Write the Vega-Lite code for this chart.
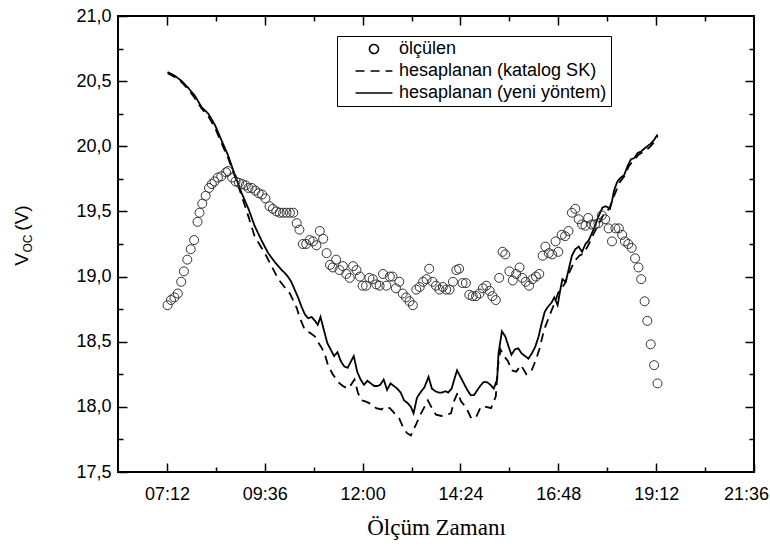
{
  "$schema": "https://vega.github.io/schema/vega-lite/v6.json",
  "width": 636,
  "height": 456,
  "autosize": "none",
  "padding": {"left": 118, "top": 16, "right": 16, "bottom": 78},
  "background": "white",
  "config": {
    "view": {"stroke": "#000", "strokeWidth": 2},
    "font": "Liberation Sans",
    "axis": {"domain": false, "grid": false, "tickColor": "#000", "tickWidth": 1.5, "labelFont": "Liberation Sans", "labelFontSize": 18, "labelColor": "#000", "titleColor": "#000", "titleFontWeight": "normal", "labelOverlap": false},
    "legend": {"symbolFillColor": "transparent"}
  },
  "datasets": {
    "olcum": [
      {"s":"ölçülen","t":"07:13","v":18.78},{"s":"ölçülen","t":"07:18","v":18.82},{"s":"ölçülen","t":"07:23","v":18.84},{"s":"ölçülen","t":"07:28","v":18.87},{"s":"ölçülen","t":"07:33","v":18.96},{"s":"ölçülen","t":"07:37","v":19.04},{"s":"ölçülen","t":"07:42","v":19.13},{"s":"ölçülen","t":"07:47","v":19.21},{"s":"ölçülen","t":"07:52","v":19.28},{"s":"ölçülen","t":"07:57","v":19.42},{"s":"ölçülen","t":"08:00","v":19.49},{"s":"ölçülen","t":"08:04","v":19.56},{"s":"ölçülen","t":"08:09","v":19.62},{"s":"ölçülen","t":"08:14","v":19.68},{"s":"ölçülen","t":"08:18","v":19.71},{"s":"ölçülen","t":"08:22","v":19.73},{"s":"ölçülen","t":"08:27","v":19.76},{"s":"ölçülen","t":"08:32","v":19.77},{"s":"ölçülen","t":"08:39","v":19.80},{"s":"ölçülen","t":"08:42","v":19.81},{"s":"ölçülen","t":"08:48","v":19.76},{"s":"ölçülen","t":"08:53","v":19.73},{"s":"ölçülen","t":"08:58","v":19.72},{"s":"ölçülen","t":"09:03","v":19.71},{"s":"ölçülen","t":"09:08","v":19.70},{"s":"ölçülen","t":"09:12","v":19.68},{"s":"ölçülen","t":"09:17","v":19.68},{"s":"ölçülen","t":"09:22","v":19.66},{"s":"ölçülen","t":"09:27","v":19.64},{"s":"ölçülen","t":"09:32","v":19.63},{"s":"ölçülen","t":"09:37","v":19.60},{"s":"ölçülen","t":"09:43","v":19.54},{"s":"ölçülen","t":"09:48","v":19.52},{"s":"ölçülen","t":"09:53","v":19.50},{"s":"ölçülen","t":"09:58","v":19.49},{"s":"ölçülen","t":"10:03","v":19.49},{"s":"ölçülen","t":"10:08","v":19.49},{"s":"ölçülen","t":"10:13","v":19.49},{"s":"ölçülen","t":"10:18","v":19.49},{"s":"ölçülen","t":"10:23","v":19.41},{"s":"ölçülen","t":"10:27","v":19.36},{"s":"ölçülen","t":"10:32","v":19.25},{"s":"ölçülen","t":"10:37","v":19.25},{"s":"ölçülen","t":"10:42","v":19.28},{"s":"ölçülen","t":"10:47","v":19.27},{"s":"ölçülen","t":"10:52","v":19.24},{"s":"ölçülen","t":"10:57","v":19.35},{"s":"ölçülen","t":"11:02","v":19.29},{"s":"ölçülen","t":"11:07","v":19.18},{"s":"ölçülen","t":"11:12","v":19.09},{"s":"ölçülen","t":"11:16","v":19.07},{"s":"ölçülen","t":"11:21","v":19.13},{"s":"ölçülen","t":"11:26","v":19.05},{"s":"ölçülen","t":"11:31","v":19.08},{"s":"ölçülen","t":"11:36","v":19.02},{"s":"ölçülen","t":"11:41","v":18.99},{"s":"ölçülen","t":"11:46","v":19.08},{"s":"ölçülen","t":"11:51","v":19.05},{"s":"ölçülen","t":"11:56","v":19.00},{"s":"ölçülen","t":"12:00","v":18.93},{"s":"ölçülen","t":"12:05","v":18.93},{"s":"ölçülen","t":"12:10","v":18.99},{"s":"ölçülen","t":"12:15","v":18.98},{"s":"ölçülen","t":"12:20","v":18.94},{"s":"ölçülen","t":"12:25","v":18.93},{"s":"ölçülen","t":"12:30","v":19.02},{"s":"ölçülen","t":"12:35","v":18.93},{"s":"ölçülen","t":"12:40","v":19.00},{"s":"ölçülen","t":"12:44","v":19.00},{"s":"ölçülen","t":"12:49","v":18.91},{"s":"ölçülen","t":"12:54","v":18.96},{"s":"ölçülen","t":"12:59","v":18.87},{"s":"ölçülen","t":"13:04","v":18.84},{"s":"ölçülen","t":"13:09","v":18.81},{"s":"ölçülen","t":"13:14","v":18.78},{"s":"ölçülen","t":"13:19","v":18.90},{"s":"ölçülen","t":"13:24","v":18.92},{"s":"ölçülen","t":"13:29","v":18.96},{"s":"ölçülen","t":"13:34","v":18.98},{"s":"ölçülen","t":"13:38","v":19.06},{"s":"ölçülen","t":"13:43","v":18.96},{"s":"ölçülen","t":"13:48","v":18.93},{"s":"ölçülen","t":"13:53","v":18.90},{"s":"ölçülen","t":"13:58","v":18.92},{"s":"ölçülen","t":"14:03","v":18.90},{"s":"ölçülen","t":"14:08","v":18.90},{"s":"ölçülen","t":"14:13","v":18.96},{"s":"ölçülen","t":"14:18","v":19.05},{"s":"ölçülen","t":"14:22","v":19.06},{"s":"ölçülen","t":"14:27","v":18.95},{"s":"ölçülen","t":"14:32","v":18.95},{"s":"ölçülen","t":"14:37","v":18.86},{"s":"ölçülen","t":"14:42","v":18.85},{"s":"ölçülen","t":"14:47","v":18.85},{"s":"ölçülen","t":"14:52","v":18.87},{"s":"ölçülen","t":"14:57","v":18.91},{"s":"ölçülen","t":"15:02","v":18.93},{"s":"ölçülen","t":"15:07","v":18.89},{"s":"ölçülen","t":"15:11","v":18.85},{"s":"ölçülen","t":"15:16","v":18.82},{"s":"ölçülen","t":"15:21","v":18.99},{"s":"ölçülen","t":"15:26","v":19.19},{"s":"ölçülen","t":"15:30","v":19.17},{"s":"ölçülen","t":"15:36","v":19.04},{"s":"ölçülen","t":"15:41","v":18.97},{"s":"ölçülen","t":"15:46","v":19.02},{"s":"ölçülen","t":"15:51","v":19.07},{"s":"ölçülen","t":"15:55","v":18.99},{"s":"ölçülen","t":"16:00","v":18.96},{"s":"ölçülen","t":"16:05","v":18.93},{"s":"ölçülen","t":"16:10","v":18.98},{"s":"ölçülen","t":"16:15","v":19.00},{"s":"ölçülen","t":"16:20","v":19.02},{"s":"ölçülen","t":"16:25","v":19.16},{"s":"ölçülen","t":"16:29","v":19.23},{"s":"ölçülen","t":"16:34","v":19.18},{"s":"ölçülen","t":"16:39","v":19.17},{"s":"ölçülen","t":"16:44","v":19.27},{"s":"ölçülen","t":"16:48","v":19.19},{"s":"ölçülen","t":"16:53","v":19.32},{"s":"ölçülen","t":"16:58","v":19.31},{"s":"ölçülen","t":"17:03","v":19.35},{"s":"ölçülen","t":"17:08","v":19.49},{"s":"ölçülen","t":"17:13","v":19.52},{"s":"ölçülen","t":"17:18","v":19.44},{"s":"ölçülen","t":"17:23","v":19.40},{"s":"ölçülen","t":"17:28","v":19.39},{"s":"ölçülen","t":"17:32","v":19.45},{"s":"ölçülen","t":"17:37","v":19.40},{"s":"ölçülen","t":"17:42","v":19.40},{"s":"ölçülen","t":"17:47","v":19.41},{"s":"ölçülen","t":"17:52","v":19.47},{"s":"ölçülen","t":"17:57","v":19.44},{"s":"ölçülen","t":"18:02","v":19.37},{"s":"ölçülen","t":"18:07","v":19.27},{"s":"ölçülen","t":"18:12","v":19.37},{"s":"ölçülen","t":"18:17","v":19.37},{"s":"ölçülen","t":"18:22","v":19.32},{"s":"ölçülen","t":"18:26","v":19.27},{"s":"ölçülen","t":"18:31","v":19.25},{"s":"ölçülen","t":"18:36","v":19.22},{"s":"ölçülen","t":"18:41","v":19.14},{"s":"ölçülen","t":"18:46","v":19.07},{"s":"ölçülen","t":"18:50","v":18.98},{"s":"ölçülen","t":"18:55","v":18.81},{"s":"ölçülen","t":"18:59","v":18.66},{"s":"ölçülen","t":"19:04","v":18.48},{"s":"ölçülen","t":"19:09","v":18.32},{"s":"ölçülen","t":"19:14","v":18.18}
    ],
    "hesap": [
      {"s":"hesaplanan (yeni yöntem)","t":"07:13","v":20.57},{"s":"hesaplanan (yeni yöntem)","t":"07:24","v":20.54},{"s":"hesaplanan (yeni yöntem)","t":"07:34","v":20.50},{"s":"hesaplanan (yeni yöntem)","t":"07:43","v":20.45},{"s":"hesaplanan (yeni yöntem)","t":"07:53","v":20.39},{"s":"hesaplanan (yeni yöntem)","t":"08:03","v":20.30},{"s":"hesaplanan (yeni yöntem)","t":"08:13","v":20.25},{"s":"hesaplanan (yeni yöntem)","t":"08:23","v":20.16},{"s":"hesaplanan (yeni yöntem)","t":"08:32","v":20.05},{"s":"hesaplanan (yeni yöntem)","t":"08:42","v":19.93},{"s":"hesaplanan (yeni yöntem)","t":"08:52","v":19.78},{"s":"hesaplanan (yeni yöntem)","t":"09:02","v":19.64},{"s":"hesaplanan (yeni yöntem)","t":"09:12","v":19.52},{"s":"hesaplanan (yeni yöntem)","t":"09:21","v":19.39},{"s":"hesaplanan (yeni yöntem)","t":"09:31","v":19.28},{"s":"hesaplanan (yeni yöntem)","t":"09:41","v":19.18},{"s":"hesaplanan (yeni yöntem)","t":"09:51","v":19.11},{"s":"hesaplanan (yeni yöntem)","t":"10:01","v":19.05},{"s":"hesaplanan (yeni yöntem)","t":"10:05","v":19.03},{"s":"hesaplanan (yeni yöntem)","t":"10:10","v":19.00},{"s":"hesaplanan (yeni yöntem)","t":"10:15","v":18.96},{"s":"hesaplanan (yeni yöntem)","t":"10:20","v":18.90},{"s":"hesaplanan (yeni yöntem)","t":"10:25","v":18.84},{"s":"hesaplanan (yeni yöntem)","t":"10:30","v":18.77},{"s":"hesaplanan (yeni yöntem)","t":"10:35","v":18.71},{"s":"hesaplanan (yeni yöntem)","t":"10:40","v":18.68},{"s":"hesaplanan (yeni yöntem)","t":"10:45","v":18.69},{"s":"hesaplanan (yeni yöntem)","t":"10:50","v":18.66},{"s":"hesaplanan (yeni yöntem)","t":"10:54","v":18.63},{"s":"hesaplanan (yeni yöntem)","t":"10:58","v":18.69},{"s":"hesaplanan (yeni yöntem)","t":"11:03","v":18.59},{"s":"hesaplanan (yeni yöntem)","t":"11:08","v":18.49},{"s":"hesaplanan (yeni yöntem)","t":"11:13","v":18.44},{"s":"hesaplanan (yeni yöntem)","t":"11:18","v":18.39},{"s":"hesaplanan (yeni yöntem)","t":"11:23","v":18.42},{"s":"hesaplanan (yeni yöntem)","t":"11:28","v":18.35},{"s":"hesaplanan (yeni yöntem)","t":"11:33","v":18.31},{"s":"hesaplanan (yeni yöntem)","t":"11:38","v":18.30},{"s":"hesaplanan (yeni yöntem)","t":"11:42","v":18.34},{"s":"hesaplanan (yeni yöntem)","t":"11:47","v":18.39},{"s":"hesaplanan (yeni yöntem)","t":"11:52","v":18.27},{"s":"hesaplanan (yeni yöntem)","t":"11:57","v":18.21},{"s":"hesaplanan (yeni yöntem)","t":"12:02","v":18.17},{"s":"hesaplanan (yeni yöntem)","t":"12:07","v":18.20},{"s":"hesaplanan (yeni yöntem)","t":"12:12","v":18.18},{"s":"hesaplanan (yeni yöntem)","t":"12:17","v":18.16},{"s":"hesaplanan (yeni yöntem)","t":"12:22","v":18.16},{"s":"hesaplanan (yeni yöntem)","t":"12:26","v":18.17},{"s":"hesaplanan (yeni yöntem)","t":"12:31","v":18.21},{"s":"hesaplanan (yeni yöntem)","t":"12:36","v":18.13},{"s":"hesaplanan (yeni yöntem)","t":"12:41","v":18.18},{"s":"hesaplanan (yeni yöntem)","t":"12:46","v":18.16},{"s":"hesaplanan (yeni yöntem)","t":"12:51","v":18.14},{"s":"hesaplanan (yeni yöntem)","t":"12:56","v":18.11},{"s":"hesaplanan (yeni yöntem)","t":"13:01","v":18.05},{"s":"hesaplanan (yeni yöntem)","t":"13:06","v":18.03},{"s":"hesaplanan (yeni yöntem)","t":"13:11","v":18.00},{"s":"hesaplanan (yeni yöntem)","t":"13:15","v":17.95},{"s":"hesaplanan (yeni yöntem)","t":"13:20","v":18.07},{"s":"hesaplanan (yeni yöntem)","t":"13:25","v":18.11},{"s":"hesaplanan (yeni yöntem)","t":"13:31","v":18.15},{"s":"hesaplanan (yeni yöntem)","t":"13:37","v":18.23},{"s":"hesaplanan (yeni yöntem)","t":"13:42","v":18.14},{"s":"hesaplanan (yeni yöntem)","t":"13:47","v":18.12},{"s":"hesaplanan (yeni yöntem)","t":"13:52","v":18.11},{"s":"hesaplanan (yeni yöntem)","t":"13:57","v":18.11},{"s":"hesaplanan (yeni yöntem)","t":"14:02","v":18.12},{"s":"hesaplanan (yeni yöntem)","t":"14:06","v":18.11},{"s":"hesaplanan (yeni yöntem)","t":"14:11","v":18.14},{"s":"hesaplanan (yeni yöntem)","t":"14:16","v":18.23},{"s":"hesaplanan (yeni yöntem)","t":"14:19","v":18.28},{"s":"hesaplanan (yeni yöntem)","t":"14:24","v":18.23},{"s":"hesaplanan (yeni yöntem)","t":"14:29","v":18.18},{"s":"hesaplanan (yeni yöntem)","t":"14:34","v":18.13},{"s":"hesaplanan (yeni yöntem)","t":"14:39","v":18.09},{"s":"hesaplanan (yeni yöntem)","t":"14:44","v":18.09},{"s":"hesaplanan (yeni yöntem)","t":"14:49","v":18.13},{"s":"hesaplanan (yeni yöntem)","t":"14:53","v":18.16},{"s":"hesaplanan (yeni yöntem)","t":"14:58","v":18.19},{"s":"hesaplanan (yeni yöntem)","t":"15:03","v":18.19},{"s":"hesaplanan (yeni yöntem)","t":"15:08","v":18.17},{"s":"hesaplanan (yeni yöntem)","t":"15:13","v":18.14},{"s":"hesaplanan (yeni yöntem)","t":"15:18","v":18.21},{"s":"hesaplanan (yeni yöntem)","t":"15:20","v":18.41},{"s":"hesaplanan (yeni yöntem)","t":"15:25","v":18.58},{"s":"hesaplanan (yeni yöntem)","t":"15:30","v":18.54},{"s":"hesaplanan (yeni yöntem)","t":"15:35","v":18.46},{"s":"hesaplanan (yeni yöntem)","t":"15:39","v":18.40},{"s":"hesaplanan (yeni yöntem)","t":"15:44","v":18.44},{"s":"hesaplanan (yeni yöntem)","t":"15:49","v":18.45},{"s":"hesaplanan (yeni yöntem)","t":"15:54","v":18.41},{"s":"hesaplanan (yeni yöntem)","t":"15:59","v":18.39},{"s":"hesaplanan (yeni yöntem)","t":"16:04","v":18.37},{"s":"hesaplanan (yeni yöntem)","t":"16:09","v":18.41},{"s":"hesaplanan (yeni yöntem)","t":"16:14","v":18.46},{"s":"hesaplanan (yeni yöntem)","t":"16:19","v":18.54},{"s":"hesaplanan (yeni yöntem)","t":"16:23","v":18.63},{"s":"hesaplanan (yeni yöntem)","t":"16:28","v":18.73},{"s":"hesaplanan (yeni yöntem)","t":"16:33","v":18.77},{"s":"hesaplanan (yeni yöntem)","t":"16:38","v":18.80},{"s":"hesaplanan (yeni yöntem)","t":"16:42","v":18.84},{"s":"hesaplanan (yeni yöntem)","t":"16:47","v":18.78},{"s":"hesaplanan (yeni yöntem)","t":"16:51","v":18.90},{"s":"hesaplanan (yeni yöntem)","t":"16:54","v":18.98},{"s":"hesaplanan (yeni yöntem)","t":"16:59","v":18.96},{"s":"hesaplanan (yeni yöntem)","t":"17:03","v":19.05},{"s":"hesaplanan (yeni yöntem)","t":"17:08","v":19.16},{"s":"hesaplanan (yeni yöntem)","t":"17:13","v":19.21},{"s":"hesaplanan (yeni yöntem)","t":"17:18","v":19.23},{"s":"hesaplanan (yeni yöntem)","t":"17:23","v":19.19},{"s":"hesaplanan (yeni yöntem)","t":"17:28","v":19.25},{"s":"hesaplanan (yeni yöntem)","t":"17:33","v":19.28},{"s":"hesaplanan (yeni yöntem)","t":"17:38","v":19.34},{"s":"hesaplanan (yeni yöntem)","t":"17:42","v":19.39},{"s":"hesaplanan (yeni yöntem)","t":"17:47","v":19.46},{"s":"hesaplanan (yeni yöntem)","t":"17:53","v":19.53},{"s":"hesaplanan (yeni yöntem)","t":"17:58","v":19.54},{"s":"hesaplanan (yeni yöntem)","t":"18:04","v":19.52},{"s":"hesaplanan (yeni yöntem)","t":"18:07","v":19.58},{"s":"hesaplanan (yeni yöntem)","t":"18:10","v":19.66},{"s":"hesaplanan (yeni yöntem)","t":"18:15","v":19.73},{"s":"hesaplanan (yeni yöntem)","t":"18:20","v":19.76},{"s":"hesaplanan (yeni yöntem)","t":"18:25","v":19.78},{"s":"hesaplanan (yeni yöntem)","t":"18:30","v":19.85},{"s":"hesaplanan (yeni yöntem)","t":"18:35","v":19.90},{"s":"hesaplanan (yeni yöntem)","t":"18:40","v":19.91},{"s":"hesaplanan (yeni yöntem)","t":"18:45","v":19.95},{"s":"hesaplanan (yeni yöntem)","t":"18:50","v":19.96},{"s":"hesaplanan (yeni yöntem)","t":"18:54","v":19.98},{"s":"hesaplanan (yeni yöntem)","t":"18:59","v":20.00},{"s":"hesaplanan (yeni yöntem)","t":"19:04","v":20.02},{"s":"hesaplanan (yeni yöntem)","t":"19:09","v":20.05},{"s":"hesaplanan (yeni yöntem)","t":"19:14","v":20.09},
      {"s":"hesaplanan (katalog SK)","t":"07:13","v":20.56},{"s":"hesaplanan (katalog SK)","t":"07:24","v":20.53},{"s":"hesaplanan (katalog SK)","t":"07:34","v":20.49},{"s":"hesaplanan (katalog SK)","t":"07:43","v":20.44},{"s":"hesaplanan (katalog SK)","t":"07:53","v":20.37},{"s":"hesaplanan (katalog SK)","t":"08:03","v":20.29},{"s":"hesaplanan (katalog SK)","t":"08:13","v":20.23},{"s":"hesaplanan (katalog SK)","t":"08:23","v":20.14},{"s":"hesaplanan (katalog SK)","t":"08:32","v":20.03},{"s":"hesaplanan (katalog SK)","t":"08:42","v":19.91},{"s":"hesaplanan (katalog SK)","t":"08:52","v":19.77},{"s":"hesaplanan (katalog SK)","t":"09:02","v":19.62},{"s":"hesaplanan (katalog SK)","t":"09:12","v":19.46},{"s":"hesaplanan (katalog SK)","t":"09:21","v":19.31},{"s":"hesaplanan (katalog SK)","t":"09:36","v":19.18},{"s":"hesaplanan (katalog SK)","t":"09:46","v":19.08},{"s":"hesaplanan (katalog SK)","t":"09:56","v":18.98},{"s":"hesaplanan (katalog SK)","t":"10:05","v":18.92},{"s":"hesaplanan (katalog SK)","t":"10:13","v":18.87},{"s":"hesaplanan (katalog SK)","t":"10:23","v":18.76},{"s":"hesaplanan (katalog SK)","t":"10:27","v":18.69},{"s":"hesaplanan (katalog SK)","t":"10:35","v":18.59},{"s":"hesaplanan (katalog SK)","t":"10:42","v":18.57},{"s":"hesaplanan (katalog SK)","t":"10:50","v":18.54},{"s":"hesaplanan (katalog SK)","t":"10:54","v":18.50},{"s":"hesaplanan (katalog SK)","t":"10:59","v":18.46},{"s":"hesaplanan (katalog SK)","t":"11:04","v":18.41},{"s":"hesaplanan (katalog SK)","t":"11:09","v":18.32},{"s":"hesaplanan (katalog SK)","t":"11:16","v":18.25},{"s":"hesaplanan (katalog SK)","t":"11:24","v":18.19},{"s":"hesaplanan (katalog SK)","t":"11:31","v":18.16},{"s":"hesaplanan (katalog SK)","t":"11:38","v":18.14},{"s":"hesaplanan (katalog SK)","t":"11:43","v":18.17},{"s":"hesaplanan (katalog SK)","t":"11:48","v":18.21},{"s":"hesaplanan (katalog SK)","t":"11:53","v":18.11},{"s":"hesaplanan (katalog SK)","t":"11:58","v":18.05},{"s":"hesaplanan (katalog SK)","t":"12:05","v":18.04},{"s":"hesaplanan (katalog SK)","t":"12:13","v":18.02},{"s":"hesaplanan (katalog SK)","t":"12:20","v":17.99},{"s":"hesaplanan (katalog SK)","t":"12:28","v":17.98},{"s":"hesaplanan (katalog SK)","t":"12:32","v":18.00},{"s":"hesaplanan (katalog SK)","t":"12:40","v":17.99},{"s":"hesaplanan (katalog SK)","t":"12:47","v":17.95},{"s":"hesaplanan (katalog SK)","t":"12:54","v":17.91},{"s":"hesaplanan (katalog SK)","t":"12:59","v":17.85},{"s":"hesaplanan (katalog SK)","t":"13:05","v":17.80},{"s":"hesaplanan (katalog SK)","t":"13:11","v":17.78},{"s":"hesaplanan (katalog SK)","t":"13:19","v":17.87},{"s":"hesaplanan (katalog SK)","t":"13:24","v":17.93},{"s":"hesaplanan (katalog SK)","t":"13:36","v":18.05},{"s":"hesaplanan (katalog SK)","t":"13:43","v":17.98},{"s":"hesaplanan (katalog SK)","t":"13:48","v":17.94},{"s":"hesaplanan (katalog SK)","t":"13:56","v":17.93},{"s":"hesaplanan (katalog SK)","t":"14:03","v":17.94},{"s":"hesaplanan (katalog SK)","t":"14:10","v":17.95},{"s":"hesaplanan (katalog SK)","t":"14:15","v":18.05},{"s":"hesaplanan (katalog SK)","t":"14:20","v":18.11},{"s":"hesaplanan (katalog SK)","t":"14:25","v":18.04},{"s":"hesaplanan (katalog SK)","t":"14:32","v":18.00},{"s":"hesaplanan (katalog SK)","t":"14:40","v":17.91},{"s":"hesaplanan (katalog SK)","t":"14:47","v":17.92},{"s":"hesaplanan (katalog SK)","t":"14:54","v":18.00},{"s":"hesaplanan (katalog SK)","t":"15:02","v":18.00},{"s":"hesaplanan (katalog SK)","t":"15:09","v":17.99},{"s":"hesaplanan (katalog SK)","t":"15:16","v":18.08},{"s":"hesaplanan (katalog SK)","t":"15:19","v":18.31},{"s":"hesaplanan (katalog SK)","t":"15:23","v":18.44},{"s":"hesaplanan (katalog SK)","t":"15:28","v":18.39},{"s":"hesaplanan (katalog SK)","t":"15:34","v":18.35},{"s":"hesaplanan (katalog SK)","t":"15:39","v":18.28},{"s":"hesaplanan (katalog SK)","t":"15:46","v":18.27},{"s":"hesaplanan (katalog SK)","t":"15:53","v":18.32},{"s":"hesaplanan (katalog SK)","t":"16:01","v":18.25},{"s":"hesaplanan (katalog SK)","t":"16:08","v":18.27},{"s":"hesaplanan (katalog SK)","t":"16:15","v":18.36},{"s":"hesaplanan (katalog SK)","t":"16:20","v":18.44},{"s":"hesaplanan (katalog SK)","t":"16:27","v":18.59},{"s":"hesaplanan (katalog SK)","t":"16:35","v":18.70},{"s":"hesaplanan (katalog SK)","t":"16:42","v":18.79},{"s":"hesaplanan (katalog SK)","t":"16:49","v":18.89},{"s":"hesaplanan (katalog SK)","t":"16:57","v":18.94},{"s":"hesaplanan (katalog SK)","t":"17:04","v":19.03},{"s":"hesaplanan (katalog SK)","t":"17:12","v":19.12},{"s":"hesaplanan (katalog SK)","t":"17:19","v":19.16},{"s":"hesaplanan (katalog SK)","t":"17:26","v":19.18},{"s":"hesaplanan (katalog SK)","t":"17:34","v":19.26},{"s":"hesaplanan (katalog SK)","t":"17:41","v":19.34},{"s":"hesaplanan (katalog SK)","t":"17:48","v":19.41},{"s":"hesaplanan (katalog SK)","t":"17:56","v":19.49},{"s":"hesaplanan (katalog SK)","t":"18:03","v":19.52},{"s":"hesaplanan (katalog SK)","t":"18:10","v":19.62},{"s":"hesaplanan (katalog SK)","t":"18:18","v":19.72},{"s":"hesaplanan (katalog SK)","t":"18:25","v":19.77},{"s":"hesaplanan (katalog SK)","t":"18:32","v":19.85},{"s":"hesaplanan (katalog SK)","t":"18:40","v":19.90},{"s":"hesaplanan (katalog SK)","t":"18:47","v":19.94},{"s":"hesaplanan (katalog SK)","t":"18:54","v":19.96},{"s":"hesaplanan (katalog SK)","t":"19:02","v":19.99},{"s":"hesaplanan (katalog SK)","t":"19:09","v":20.03},{"s":"hesaplanan (katalog SK)","t":"19:14","v":20.08}
    ]
  },
  "layer": [
    {
      "data": {"name": "hesap", "format": {"parse": {"t": "date:'%H:%M'"}}},
      "mark": {"type": "line", "color": "#000", "strokeWidth": 1.8},
      "encoding": {
        "x": {
          "field": "t", "type": "temporal",
          "scale": {"domain": [{"year": 1900, "month": 1, "date": 1, "hours": 6, "minutes": 0}, {"year": 1900, "month": 1, "date": 1, "hours": 21, "minutes": 36}], "nice": false},
          "axis": {
            "orient": "bottom",
            "values": [{"year":1900,"month":1,"date":1,"hours":7,"minutes":12},{"year":1900,"month":1,"date":1,"hours":8,"minutes":24},{"year":1900,"month":1,"date":1,"hours":9,"minutes":36},{"year":1900,"month":1,"date":1,"hours":10,"minutes":48},{"year":1900,"month":1,"date":1,"hours":12,"minutes":0},{"year":1900,"month":1,"date":1,"hours":13,"minutes":12},{"year":1900,"month":1,"date":1,"hours":14,"minutes":24},{"year":1900,"month":1,"date":1,"hours":15,"minutes":36},{"year":1900,"month":1,"date":1,"hours":16,"minutes":48},{"year":1900,"month":1,"date":1,"hours":18,"minutes":0},{"year":1900,"month":1,"date":1,"hours":19,"minutes":12},{"year":1900,"month":1,"date":1,"hours":20,"minutes":24},{"year":1900,"month":1,"date":1,"hours":21,"minutes":36}],
            "labelExpr": "((hours(datum.value)*60+minutes(datum.value)-432)%144)==0 ? timeFormat(datum.value,'%H:%M') : ''",
            "labelFlush": false,
            "labelPadding": 22,
            "labelOffset": {"condition": {"test": "hours(datum.value)==21", "value": -8}, "value": 0},
            "tickSize": {"condition": {"test": "((hours(datum.value)*60+minutes(datum.value)-432)%144)==0", "value": -9}, "value": -5},
            "title": "Ölçüm Zamanı",
            "titleFont": "Liberation Serif",
            "titleFontSize": 23,
            "titleX": 318,
            "titleY": 62,
            "titleAlign": "center",
            "titleBaseline": "alphabetic"
          }
        },
        "y": {
          "field": "v", "type": "quantitative",
          "scale": {"domain": [17.5, 21], "nice": false, "zero": false},
          "axis": {
            "orient": "left",
            "values": [17.5,17.75,18,18.25,18.5,18.75,19,19.25,19.5,19.75,20,20.25,20.5,20.75,21],
            "labelExpr": "(datum.value*4)%2==0 ? replace(format(datum.value,'.1f'),'.',',') : ''",
            "labelPadding": 16,
            "tickSize": {"condition": {"test": "(datum.value*4)%2==0", "value": -9}, "value": -5},
            "title": "V",
            "titleFontSize": 19,
            "titleAngle": 270,
            "titleX": -90.5,
            "titleY": 243,
            "titleAlign": "center",
            "titleBaseline": "alphabetic"
          }
        },
        "strokeDash": {
          "field": "s", "type": "nominal",
          "scale": {"domain": ["ölçülen", "hesaplanan (katalog SK)", "hesaplanan (yeni yöntem)"], "range": [[1, 0], [9, 6], [1, 0]]},
          "legend": {
            "title": null,
            "orient": "none",
            "legendX": 219,
            "legendY": 20,
            "direction": "vertical",
            "strokeColor": "#000",
            "padding": 4,
            "labelFont": "Liberation Sans",
            "labelFontSize": 18,
            "labelColor": "#000",
            "labelLimit": 400,
            "symbolSize": 81,
            "symbolOffset": 24,
            "labelOffset": 16,
            "rowPadding": 4,
            "symbolStrokeWidth": 1.6,
            "symbolStrokeColor": "#000",
            "symbolFillColor": "transparent"
          }
        }
      }
    },
    {
      "data": {"name": "olcum", "format": {"parse": {"t": "date:'%H:%M'"}}},
      "mark": {"type": "point", "filled": false, "size": 81, "stroke": "#333", "strokeWidth": 1, "opacity": 1},
      "encoding": {
        "x": {
          "field": "t", "type": "temporal",
          "axis": {
            "orient": "top",
            "values": [{"year":1900,"month":1,"date":1,"hours":7,"minutes":12},{"year":1900,"month":1,"date":1,"hours":8,"minutes":24},{"year":1900,"month":1,"date":1,"hours":9,"minutes":36},{"year":1900,"month":1,"date":1,"hours":10,"minutes":48},{"year":1900,"month":1,"date":1,"hours":12,"minutes":0},{"year":1900,"month":1,"date":1,"hours":13,"minutes":12},{"year":1900,"month":1,"date":1,"hours":14,"minutes":24},{"year":1900,"month":1,"date":1,"hours":15,"minutes":36},{"year":1900,"month":1,"date":1,"hours":16,"minutes":48},{"year":1900,"month":1,"date":1,"hours":18,"minutes":0},{"year":1900,"month":1,"date":1,"hours":19,"minutes":12},{"year":1900,"month":1,"date":1,"hours":20,"minutes":24}],
            "labels": false,
            "tickSize": {"condition": {"test": "((hours(datum.value)*60+minutes(datum.value)-432)%144)==0", "value": -9}, "value": -5},
            "title": "(V)",
            "titleFontSize": 19,
            "titleAngle": 270,
            "titleX": -90.5,
            "titleY": 201.5,
            "titleAlign": "center",
            "titleBaseline": "alphabetic"
          }
        },
        "y": {
          "field": "v", "type": "quantitative",
          "axis": {
            "orient": "right",
            "values": [17.75,18,18.25,18.5,18.75,19,19.25,19.5,19.75,20,20.25,20.5,20.75],
            "labels": false,
            "tickSize": {"condition": {"test": "(datum.value*4)%2==0", "value": -9}, "value": -5},
            "title": "OC",
            "titleFontSize": 12,
            "titleAngle": 270,
            "titleX": -722.5,
            "titleY": 227,
            "titleAlign": "center",
            "titleBaseline": "alphabetic"
          }
        },
        "shape": {
          "field": "s", "type": "nominal",
          "scale": {"domain": ["ölçülen", "hesaplanan (katalog SK)", "hesaplanan (yeni yöntem)"], "range": ["circle", "M-4.1,0H4.1", "M-4.1,0H4.1"]},
          "legend": {
            "title": null,
            "orient": "none",
            "legendX": 219,
            "legendY": 20,
            "direction": "vertical",
            "strokeColor": "#000",
            "padding": 4,
            "labelFont": "Liberation Sans",
            "labelFontSize": 18,
            "labelColor": "#000",
            "labelLimit": 400,
            "symbolSize": 81,
            "symbolOffset": 24,
            "labelOffset": 16,
            "rowPadding": 4,
            "symbolStrokeWidth": 1.6,
            "symbolStrokeColor": "#000",
            "symbolFillColor": "transparent"
          }
        }
      }
    }
  ],
  "resolve": {"axis": {"x": "independent", "y": "independent"}}
}
